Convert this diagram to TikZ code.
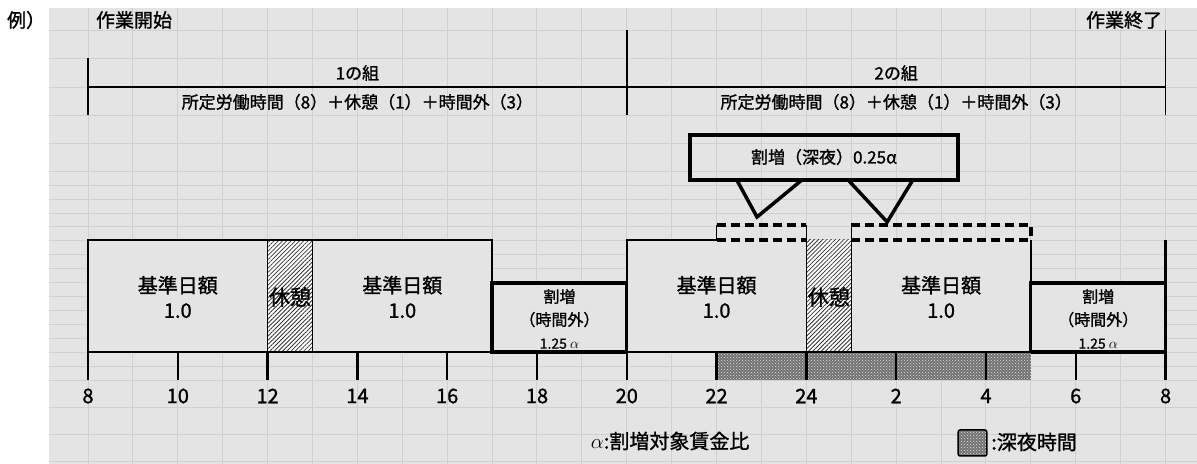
\documentclass[tikz,border=0pt]{standalone}
\usepackage{fontspec}
\setmainfont{Noto Sans CJK JP}[FakeBold=1.2]
\usetikzlibrary{patterns,patterns.meta}

\definecolor{cellgray}{RGB}{228,228,228}
\definecolor{gridgray}{RGB}{208,208,208}
\newcommand{\jsize}[2]{\fontsize{#1}{#2}\selectfont}

\begin{document}
\begin{tikzpicture}[x=44.9pt,y=-1pt,
  gridline/.style={gridgray,line width=1pt},
  bracket/.style={line width=1.6pt},
  box/.style={draw,line width=1.3pt,fill=cellgray},
  bigbox/.style={draw,line width=3.2pt,fill=cellgray},
  dashbox/.style={line width=3.4pt,dash pattern=on 9pt off 5pt},
  rest/.style={preaction={fill=white},pattern={Lines[angle=45,distance=3pt,line width=0.8pt]},pattern color=black!80},
  night/.style={preaction={fill=black!55},pattern=crosshatch dots,pattern color=gray!25},
  timeline/.style={line width=2.4pt},
  group/.style={font=\jsize{17}{17}},
  base/.style={align=center,font=\jsize{20}{25}},
  extra/.style={align=center,font=\jsize{16}{23}},
  ticktext/.style={font=\jsize{20}{20}}]

\useasboundingbox (-1.96,0) rectangle (24.70,464);

% sheet with cell grid
\fill[white] (-1.96,0) rectangle (24.70,464);
\fill[cellgray] (-0.87,8) rectangle (24.70,464);
\foreach \x in {0,...,24}
  \draw[gridline] (\x,8) -- (\x,464);
\foreach \y in {30,58,87,115,143}
  \draw[gridline] (-0.87,\y) -- (24.70,\y);
\foreach \y in {171,185,...,381}
  \draw[gridline] (-0.87,\y) -- (24.70,\y);
\foreach \y in {408,435,462}
  \draw[gridline] (-0.87,\y) -- (24.70,\y);

% header
\node[anchor=west,font=\jsize{19}{19}] (rei) at (-1.88,20) {例）};
\node[anchor=west,font=\jsize{19}{19}] (start) at (0.1,20) {作業開始};
\node[anchor=east,font=\jsize{19}{19}] (finish) at (24,20) {作業終了};

\draw[bracket] (0,58) -- (0,115);
\draw[bracket] (12,30) -- (12,115);
\draw[bracket] (24,30) -- (24,115);
\draw[bracket] (0,87) -- (24,87);
\node[group] (grp1) at (6,73) {1の組};
\node[group] (grp2) at (18,73) {2の組};
\node[group] (hours1) at (6,102) {所定労働時間（8）＋休憩（1）＋時間外（3）};
\node[group] (hours2) at (18,102) {所定労働時間（8）＋休憩（1）＋時間外（3）};

% first shift
\draw[box] (0,240) rectangle (4,352);
\draw[rest,line width=1.3pt] (4,240) rectangle (5,352);
\draw[box] (5,240) rectangle (9,352);
\draw[bigbox] (9,283) rectangle (12,352);
\node[base] (base1) at (2,297) {基準日額\\1.0};
\node[font=\jsize{21}{21}] (rest1) at (4.5,297) {休憩};
\node[base] (base2) at (7,297) {基準日額\\1.0};
\node[extra] (extra1) at (10.5,319) {割増\\（時間外）\\{\jsize{14}{23}1.25 $\alpha$}};

% second shift
\fill[cellgray] (12,240) rectangle (16,352);
\fill[cellgray] (17,240) rectangle (21,352);
\fill[rest] (16,240) rectangle (17,352);
\draw[box] (14,225) |- (12,240) -- (12,352);
\draw[line width=1.3pt] (16,225) -- (16,352);
\draw[line width=1.3pt] (17,225) -- (17,352);
\draw[line width=2pt] (21,240) -- (21,352);
\draw[dashbox] (14,225) -- (16,225) (14,240) -- (16,240);
\draw[dashbox] (17,225) -- (21,225) -- (21,240) (17,240) -- (21,240);
\draw[bigbox] (21,283) rectangle (24,352);
\draw[timeline] (12,240) -- (12,352);
\draw[timeline] (24,240) -- (24,283);
\node[base] (base3) at (14,297) {基準日額\\1.0};
\node[font=\jsize{21}{21}] (rest2) at (16.5,297) {休憩};
\node[base] (base4) at (19,297) {基準日額\\1.0};
\node[extra] (extra2) at (22.5,319) {割増\\（時間外）\\{\jsize{14}{23}1.25 $\alpha$}};

% callout
\draw[line width=4.5pt] (13.41,135) rectangle (19.38,180);
\node[font=\jsize{17}{17}] (midnight) at (16.39,157) {割増（深夜）0.25α};
\draw[line width=3.5pt] (14.45,180) -- (14.90,217) -- (15.90,180);
\draw[line width=3.5pt] (16.93,180) -- (17.80,222) -- (18.37,180);

% time axis
\fill[night] (14,352) rectangle (21,380);
\draw[timeline] (0,352) -- (24,352);
\foreach \x/\t in {0/8,2/10,4/12,6/14,8/16,10/18,12/20,14/22,16/24,18/2,20/4,22/6,24/8}
{
  \draw[timeline] (\x,352) -- (\x,380);
  \node[ticktext] (tick\x) at (\x,396) {\t};
}

% legend
\node[anchor=west,font=\jsize{20}{20}] (alphanote) at (11.12,441) {$\alpha$:割増対象賃金比};
\draw[night,rounded corners=2pt,line width=1.5pt] (19.38,430) rectangle (20.02,456);
\node[anchor=west,font=\jsize{20}{20}] (nightnote) at (20.04,442) {:深夜時間};

\end{tikzpicture}
\end{document}
